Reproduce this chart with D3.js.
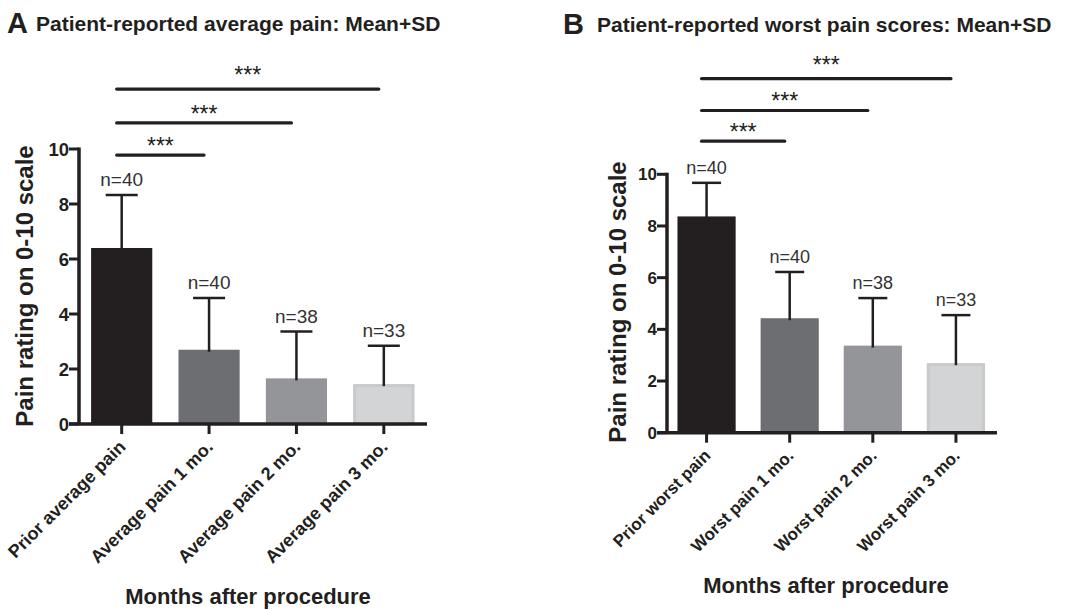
<!DOCTYPE html>
<html>
<head>
<meta charset="utf-8">
<script src="https://cdn.jsdelivr.net/npm/d3@7/dist/d3.min.js"></script>
<style>
  html, body { margin: 0; padding: 0; background: #ffffff; }
  svg { display: block; }
  text { font-family: "Liberation Sans", Arial, Helvetica, sans-serif; fill: #231f20; }
</style>
</head>
<body>
<svg id="chart" width="1068" height="610"></svg>
<script>
// ---------------- DATA ----------------
const categoriesA = ["Prior average pain", "Average pain 1 mo.", "Average pain 2 mo.", "Average pain 3 mo."];
const meansA = [6.4, 2.7, 1.66, 1.45];
const sdA = [1.93, 1.88, 1.7, 1.4];
const nA = [40, 40, 38, 33];

const categoriesB = ["Prior worst pain", "Worst pain 1 mo.", "Worst pain 2 mo.", "Worst pain 3 mo."];
const meansB = [8.37, 4.43, 3.37, 2.69];
const sdB = [1.3, 1.79, 1.84, 1.86];
const nB = [40, 40, 38, 33];

const yTicks = [0, 2, 4, 6, 8, 10];
const barColors = ["#231f20", "#6d6e71", "#939598", "#d3d4d5"];
const sigPairs = [[0, 1], [0, 2], [0, 3]];
const sigLabels = ["***", "***", "***"];

const titleA = "Patient-reported average pain: Mean+SD";
const titleB = "Patient-reported worst pain scores: Mean+SD";
const yTitle = "Pain rating on 0-10 scale";
const xTitle = "Months after procedure";

// ---------------- DRAW ----------------
const svg = d3.select("#chart");
const ink = "#231f20";

function drawPanel(o) {
  const g = svg.append("g");
  const y = d3.scaleLinear().domain([0, 10]).range([o.y0, o.y10]);
  const x = d3.scaleBand().domain(o.categories).range([o.bx0, o.bx1]).paddingInner(0.3).paddingOuter(0.15);

  // panel letter + title
  g.append("text").attr("x", o.letterX).attr("y", o.titleY + 2)
    .style("font-size", "29px").style("font-weight", "bold").text(o.letter);
  g.append("text").attr("x", o.titleX).attr("y", o.titleY)
    .style("font-size", "21px").style("font-weight", "bold").text(o.title);

  // bars
  const rows = o.categories.map((c, i) => ({ c, m: o.means[i], sd: o.sds[i], n: o.ns[i], col: barColors[i] }));
  g.selectAll("rect.bar").data(rows).enter().append("rect")
    .attr("x", d => x(d.c)).attr("width", x.bandwidth())
    .attr("y", d => y(d.m)).attr("height", d => y(0) - y(d.m))
    .attr("fill", d => d.col);
  // light bar edge
  g.selectAll("rect.edge").data(rows.filter((d, i) => i === 3)).enter().append("rect")
    .attr("x", d => x(d.c) + 1.5).attr("width", x.bandwidth() - 3)
    .attr("y", d => y(d.m) + 1.5).attr("height", d => y(0) - y(d.m) - 1.5)
    .attr("fill", "none").attr("stroke", "#c9cacc").attr("stroke-width", 3);

  // error bars
  const cx = d => x(d.c) + x.bandwidth() / 2;
  g.selectAll("line.err").data(rows).enter().append("line")
    .attr("x1", cx).attr("x2", cx)
    .attr("y1", d => y(d.m) + 2).attr("y2", d => y(d.m + d.sd))
    .attr("stroke", ink).attr("stroke-width", 2.5);
  g.selectAll("line.cap").data(rows).enter().append("line")
    .attr("x1", d => cx(d) - o.capHalf).attr("x2", d => cx(d) + o.capHalf)
    .attr("y1", d => y(d.m + d.sd)).attr("y2", d => y(d.m + d.sd))
    .attr("stroke", ink).attr("stroke-width", 2.5);
  g.selectAll("text.n").data(rows).enter().append("text")
    .attr("x", cx).attr("y", d => y(d.m + d.sd) - 9)
    .attr("text-anchor", "middle").style("font-size", o.nSize + "px").style("fill", "#333132")
    .text(d => "n=" + d.n);

  // y axis
  g.append("line").attr("x1", o.ax).attr("x2", o.ax).attr("y1", y(10) - 1.5).attr("y2", y(0))
    .attr("stroke", ink).attr("stroke-width", 3.5);
  g.selectAll("line.yt").data(yTicks).enter().append("line")
    .attr("x1", o.ax - 10).attr("x2", o.ax).attr("y1", d => y(d)).attr("y2", d => y(d))
    .attr("stroke", ink).attr("stroke-width", 3);
  g.selectAll("text.yt").data(yTicks).enter().append("text")
    .attr("x", o.ax - 10).attr("y", d => y(d)).attr("dy", "0.36em")
    .attr("text-anchor", "end").style("font-size", o.tickSize + "px").style("font-weight", "bold")
    .text(d => d);

  // x axis
  g.append("line").attr("x1", o.ax - 10).attr("x2", o.axEnd).attr("y1", y(0)).attr("y2", y(0))
    .attr("stroke", ink).attr("stroke-width", 3.5);
  g.selectAll("line.xt").data(rows).enter().append("line")
    .attr("x1", cx).attr("x2", cx).attr("y1", y(0)).attr("y2", y(0) + 10)
    .attr("stroke", ink).attr("stroke-width", 3);
  g.selectAll("text.xt").data(rows).enter().append("text")
    .attr("transform", d => `translate(${cx(d) + 5},${y(0) + 24}) rotate(-45)`)
    .attr("text-anchor", "end").style("font-size", o.xLabSize + "px").style("font-weight", "bold")
    .text(d => d.c);

  // axis titles
  g.append("text").attr("transform", `translate(${o.yTitleX},${o.yTitleY}) rotate(-90)`)
    .attr("text-anchor", "middle").style("font-size", "24px").style("font-weight", "bold").text(yTitle);
  g.append("text").attr("x", o.xTitleX).attr("y", o.xTitleY)
    .attr("text-anchor", "middle").style("font-size", "22px").style("font-weight", "bold").text(xTitle);

  // significance bars
  sigPairs.forEach((p, k) => {
    const x1 = cx(rows[p[0]]) - 5, x2 = cx(rows[p[1]]) - 5;
    const ly = y(o.sigLevels[k]);
    g.append("line").attr("x1", x1).attr("x2", x2).attr("y1", ly).attr("y2", ly)
      .attr("stroke", ink).attr("stroke-width", 3.2).attr("stroke-linecap", "round");
    g.append("text").attr("x", (x1 + x2) / 2).attr("y", ly - o.sigGaps[k])
      .attr("text-anchor", "middle").style("font-size", "23px").text(sigLabels[k]);
  });
}

drawPanel({
  letter: "A", title: titleA, letterX: 7, titleX: 36, titleY: 31,
  categories: categoriesA, means: meansA, sds: sdA, ns: nA,
  y0: 424, y10: 149, ax: 79, bx0: 78, bx1: 427.5, axEnd: 427,
  capHalf: 16, nSize: 19, tickSize: 18.5, xLabSize: 18,
  yTitleX: 33, yTitleY: 286, xTitleX: 248, xTitleY: 604,
  sigLevels: [9.78, 10.95, 12.18], sigGaps: [1, 1, 6]
});

drawPanel({
  letter: "B", title: titleB, letterX: 563, titleX: 597, titleY: 32,
  categories: categoriesB, means: meansB, sds: sdB, ns: nB,
  y0: 432.7, y10: 174.3, ax: 667, bx0: 665, bx1: 997.5, axEnd: 997,
  capHalf: 14.5, nSize: 18, tickSize: 17, xLabSize: 17,
  yTitleX: 626, yTitleY: 302, xTitleX: 826, xTitleY: 593,
  sigLevels: [11.28, 12.47, 13.7], sigGaps: [1, 1, 6]
});
</script>
</body>
</html>
